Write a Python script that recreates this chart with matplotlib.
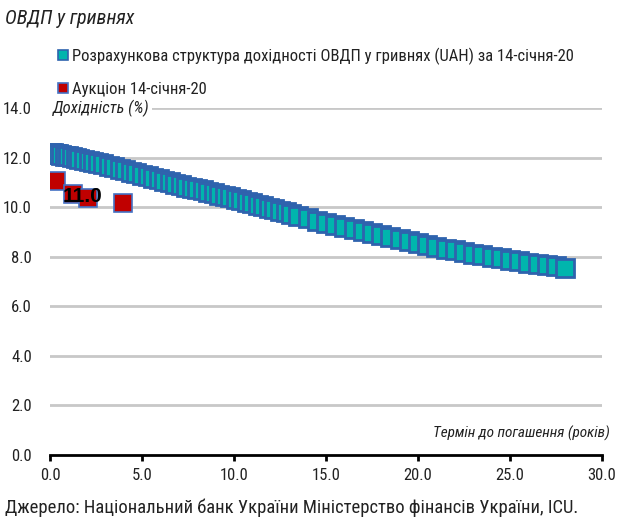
import matplotlib
matplotlib.use("Agg")
import matplotlib.pyplot as plt
from matplotlib.lines import Line2D

plt.rcParams['font.family'] = ['Liberation Sans Narrow', 'Roboto Condensed', 'Liberation Sans', 'DejaVu Sans']

title = "ОВДП у гривнях"
curve_label = "Розрахункова структура дохідності ОВДП у гривнях (UAH) за 14-січня-20"
auction_label = "Аукціон 14-січня-20"
y_label = "Дохідність (%)"
x_label = "Термін до погашення (років)"
source = "Джерело: Національний банк України Міністерство фінансів України, ICU."

curve_x = [0.05, 0.15, 0.3, 0.45, 0.6, 0.8, 1.0, 1.2, 1.4, 1.6, 1.85, 2.1, 2.35, 2.6,
           2.9, 3.2, 3.5, 3.8, 4.1, 4.4, 4.7, 5.0, 5.3, 5.6, 5.9, 6.2, 6.5, 6.8, 7.1,
           7.4, 7.7, 8.0, 8.3, 8.6, 8.9, 9.2, 9.5, 9.8, 10.1, 10.4, 10.7, 11.0, 11.3,
           11.6, 11.9, 12.2, 12.5, 12.8, 13.1,
           13.5, 14.0, 14.5, 15.0, 15.5, 16.0, 16.5, 17.0, 17.5, 18.0, 18.5, 19.0,
           19.5, 20.0, 20.5, 21.0, 21.5, 22.0, 22.5, 23.0, 23.5, 24.0, 24.5, 25.0,
           25.5, 26.0, 26.5, 27.0, 27.5, 28.0]
curve_y = [12.18, 12.17, 12.15, 12.13, 12.11, 12.08, 12.05, 12.02, 11.99, 11.96, 11.92,
           11.88, 11.84, 11.79, 11.73, 11.67, 11.61, 11.55, 11.49, 11.43, 11.37, 11.31,
           11.25, 11.19, 11.13, 11.07, 11.01, 10.95, 10.89, 10.83, 10.78, 10.74, 10.69,
           10.63, 10.57, 10.51, 10.45, 10.39, 10.33, 10.27, 10.21, 10.15, 10.09, 10.03,
           9.97, 9.91, 9.85, 9.79, 9.73,
           9.64, 9.55, 9.46, 9.36, 9.27, 9.18, 9.10, 9.02, 8.94, 8.86, 8.78, 8.70,
           8.62, 8.55, 8.47, 8.40, 8.33, 8.26, 8.19, 8.12, 8.05, 7.99, 7.93, 7.87,
           7.81, 7.76, 7.71, 7.66, 7.61, 7.56]

auction_x = [0.33, 1.23, 2.08, 3.95]
auction_y = [11.06, 10.52, 10.35, 10.17]
label_text = "11.0"
label_pos = (1.77, 10.42)

x_ticks = [0, 5, 10, 15, 20, 25, 30]
y_ticks = [0, 2, 4, 6, 8, 10, 12, 14]

teal = "#00b5ad"
edge_blue = "#2f63ae"
red = "#c00000"
grid_col = "#c8c8c8"
txt = "#222222"

fig = plt.figure(figsize=(6.19, 5.19), dpi=100)
ax = fig.add_axes([50/619, 1-455/519, 552/619, 347/519])

for yt in y_ticks[1:]:
    ax.axhline(yt, color=grid_col, lw=2, zorder=0)

ax.plot(curve_x, curve_y, ls='none', marker='s', ms=12.5, mfc=teal, mec=edge_blue, mew=2, zorder=3)
ax.plot(auction_x, auction_y, ls='none', marker='s', ms=13, mfc=red, mec="#4472c4", mew=1.2, zorder=4)
ax.text(label_pos[0], label_pos[1], label_text, fontsize=15, fontweight='bold', color='black',
        ha='center', va='center', zorder=5, family=['Liberation Sans Narrow', 'Liberation Sans', 'DejaVu Sans'])

ax.set_xlim(0, 30)
ax.set_ylim(0, 14)
ax.set_xticks(x_ticks)
ax.set_xticklabels([f"{v:.1f}" for v in x_ticks], fontsize=12, color=txt)
ax.set_yticks(y_ticks)
ax.set_yticklabels([f"{v:.1f}" for v in y_ticks], fontsize=12, color=txt)
for s in ['top', 'right', 'left']:
    ax.spines[s].set_visible(False)
ax.spines['bottom'].set_linewidth(2)
ax.spines['bottom'].set_color('black')
ax.spines['bottom'].set_zorder(6)
ax.tick_params(axis='x', direction='out', length=4, width=2, color='black', pad=5)
ax.tick_params(axis='y', length=0, pad=13)

ax.text(0.15, 14, y_label, fontsize=12, style='italic', color=txt, ha='left', va='center',
        bbox=dict(facecolor='white', edgecolor='none', pad=2), zorder=5)
fig.text(610/619, 1-433/519, x_label, fontsize=11, style='italic', color=txt, ha='right', va='center')
fig.text(5/619, 1-18/519, title, fontsize=14.5, style='italic', color=txt, ha='left', va='center')
fig.text(5/619, 1-508/519, source, fontsize=13.4, color=txt, ha='left', va='center')

handles = [Line2D([], [], ls='none', marker='s', ms=7, mfc=teal, mec=edge_blue, mew=1.2),
           Line2D([], [], ls='none', marker='s', ms=7, mfc=red, mec="#4472c4", mew=1.2)]
fig.legend(handles, [curve_label, auction_label], loc='upper left',
           bbox_to_anchor=(50/619, 1-39/519), frameon=False, fontsize=12,
           handlelength=0.6, handletextpad=0.2, labelspacing=1.05, borderpad=0, labelcolor=txt)

fig.savefig("out.png", dpi=100)
